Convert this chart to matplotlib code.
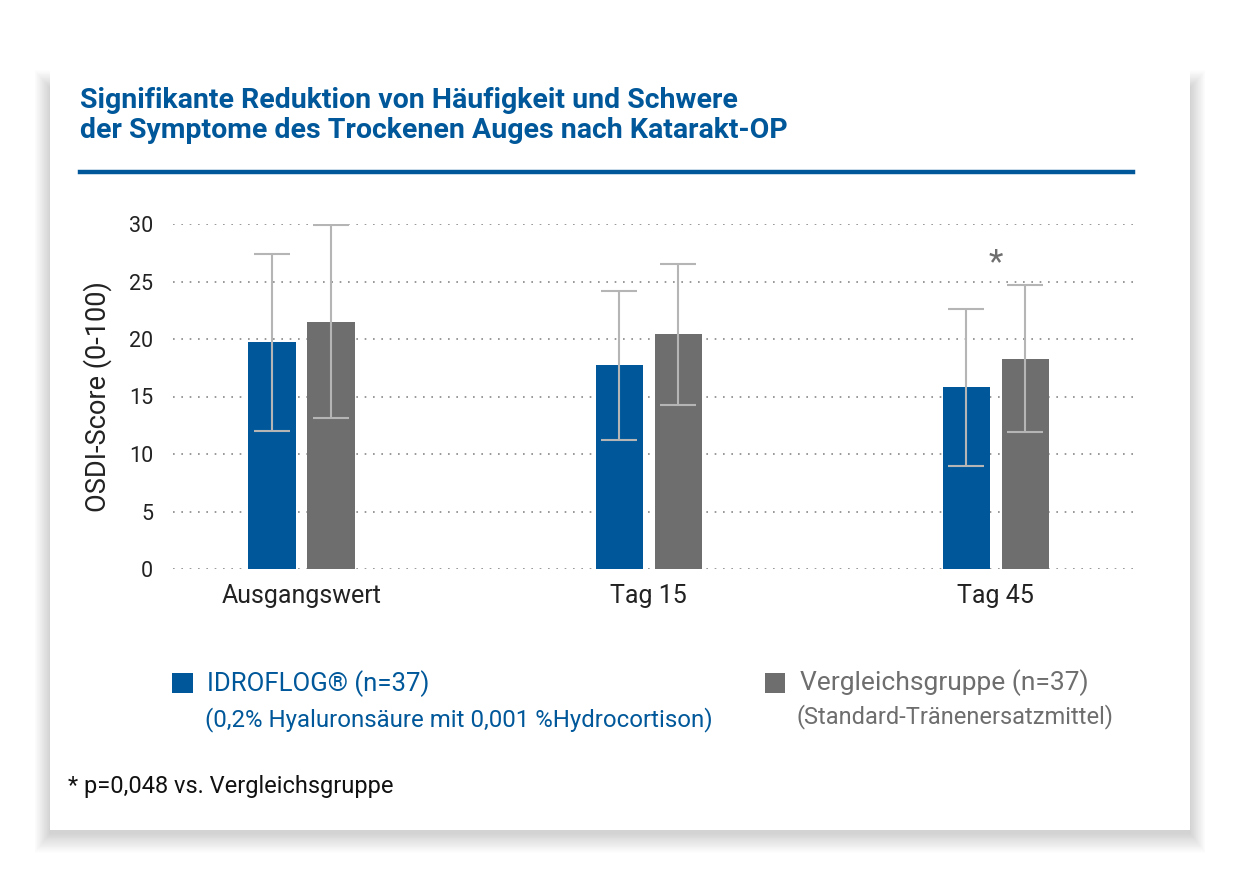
import matplotlib.pyplot as plt
from matplotlib.patches import Rectangle
import numpy as np

plt.rcParams['font.family'] = ['Roboto', 'DejaVu Sans']

# Daten (OSDI-Score, Mittelwert und Standardabweichung)
zeitpunkte = ['Ausgangswert', 'Tag 15', 'Tag 45']
idroflog = [19.7, 17.7, 15.8]
idroflog_sd = [7.7, 6.5, 6.8]
vergleich = [21.5, 20.4, 18.3]
vergleich_sd = [8.4, 6.15, 6.4]
yticks = [0, 5, 10, 15, 20, 25, 30]

blau = '#00589a'
grau = '#6e6e6e'
fehler = '#b5b5b5'

W, H = 1240, 886
fig = plt.figure(figsize=(W / 100, H / 100), dpi=100)
fig.patch.set_facecolor('white')

# Karte mit weichem Schatten
cx0, cy0, cx1, cy1 = 50, 58, 1190, 830
for i in range(22, 0, -1):
    top = cy0 + 30 - i * 0.8
    fig.patches.append(Rectangle(((cx0 - i * 0.7) / W, 1 - (cy1 + 3 + i * 0.9) / H),
                                 (cx1 - cx0 + i * 1.4) / W, (cy1 + 3 + i * 0.9 - top) / H,
                                 transform=fig.transFigure, facecolor='black',
                                 alpha=0.009, edgecolor='none', zorder=0))
fig.patches.append(Rectangle((cx0 / W, 1 - cy1 / H), (cx1 - cx0) / W, (cy1 - cy0) / H,
                             transform=fig.transFigure, facecolor='white',
                             edgecolor='none', zorder=1))

# Titel
fig.text(80 / W, 1 - 101 / H, 'Signifikante Reduktion von Häufigkeit und Schwere',
         color=blau, fontsize=20.5, fontweight='bold', va='center', ha='left', zorder=3)
fig.text(80 / W, 1 - 131 / H, 'der Symptome des Trockenen Auges nach Katarakt-OP',
         color=blau, fontsize=20.5, fontweight='bold', va='center', ha='left', zorder=3)
fig.lines.append(plt.Line2D([80 / W, 1133 / W], [1 - 172 / H, 1 - 172 / H],
                            transform=fig.transFigure, color=blau, lw=3.2, zorder=3))

# Diagramm
ax = fig.add_axes([172.7 / W, 1 - 569 / H, (1133 - 172.7) / W, (569 - 224) / H])
ax.set_zorder(5)
ax.set_facecolor('none')
x = np.arange(len(zeitpunkte))
b = 0.136
d = 0.085
ax.bar(x - d, idroflog, b, color=blau, zorder=3)
ax.bar(x + d, vergleich, b, color=grau, zorder=3)
ax.errorbar(x - d, idroflog, yerr=idroflog_sd, fmt='none', ecolor=fehler,
            elinewidth=1.5, capsize=13, capthick=1.5, zorder=4)
ax.errorbar(x + d, vergleich, yerr=vergleich_sd, fmt='none', ecolor=fehler,
            elinewidth=1.5, capsize=13, capthick=1.5, zorder=4)
ax.text(x[2], 26.6, '*', color=grau, fontsize=24, ha='center', va='center')

ax.set_xlim(-0.371, 2.395)
ax.set_ylim(0, 30)
ax.set_yticks(yticks)
ax.set_yticklabels([str(t) for t in yticks], fontsize=15.5, color='#222222')
ax.set_xticks(x)
ax.set_xticklabels(zeitpunkte, fontsize=18, color='#222222')
ax.tick_params(axis='both', length=0)
ax.tick_params(axis='y', pad=14)
ax.tick_params(axis='x', pad=11)
for s in ax.spines.values():
    s.set_visible(False)
ax.yaxis.grid(True, linestyle=(0, (1, 4)), color='#888888', lw=1.2, zorder=0)
ax.set_ylabel('OSDI-Score (0-100)', fontsize=19.5, color='#222222', labelpad=12)

# Legende
fig.patches.append(Rectangle((172 / W, 1 - 693 / H), 21 / W, 20 / H,
                             transform=fig.transFigure, facecolor=blau, zorder=2))
fig.text(207 / W, 1 - 684 / H, 'IDROFLOG® (n=37)', color=blau, fontsize=18.5,
         va='center', ha='left', zorder=3)
fig.text(205 / W, 1 - 720 / H, '(0,2% Hyaluronsäure mit 0,001 %Hydrocortison)',
         color=blau, fontsize=17.3, va='center', ha='left', zorder=3)
fig.patches.append(Rectangle((765 / W, 1 - 693 / H), 20 / W, 20 / H,
                             transform=fig.transFigure, facecolor=grau, zorder=2))
fig.text(800 / W, 1 - 683 / H, 'Vergleichsgruppe (n=37)', color=grau, fontsize=19,
         va='center', ha='left', zorder=3)
fig.text(797 / W, 1 - 717 / H, '(Standard-Tränenersatzmittel)', color=grau,
         fontsize=17, va='center', ha='left', zorder=3)

fig.text(68 / W, 1 - 787 / H, '* p=0,048 vs. Vergleichsgruppe', color='#111111',
         fontsize=17, va='center', ha='left', zorder=3)

fig.savefig('out.png', dpi=100)
